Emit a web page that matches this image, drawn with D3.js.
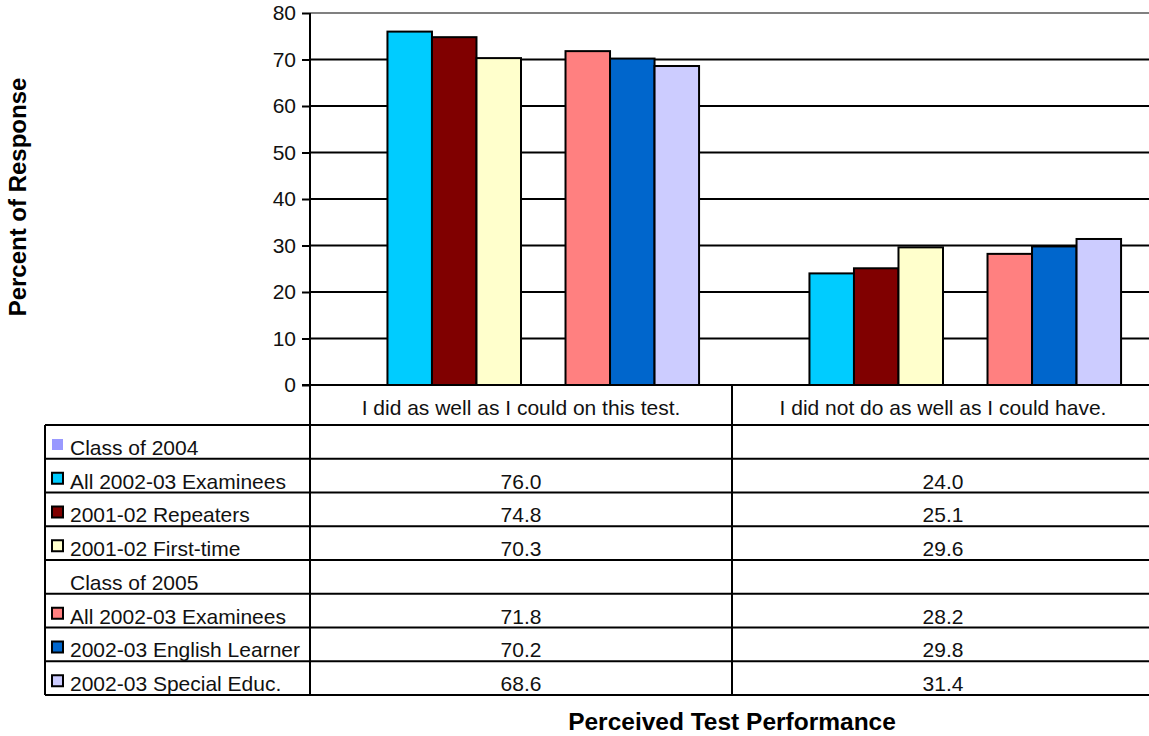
<!DOCTYPE html>
<html>
<head>
<meta charset="utf-8">
<script src="https://cdn.jsdelivr.net/npm/d3@7"></script>
<style>
  html, body { margin: 0; padding: 0; background: #fff; }
  svg { display: block; font-family: Arial, "Liberation Sans", sans-serif; }
</style>
</head>
<body>
<svg id="chart" width="1149" height="736"></svg>
<script>
// ---- data ----
const categories = ["I did as well as I could on this test.", "I did not do as well as I could have."];
const seriesNames = ["Class of 2004", "All 2002-03 Examinees", "2001-02 Repeaters", "2001-02 First-time",
                     "Class of 2005", "All 2002-03 Examinees", "2002-03 English Learner", "2002-03 Special Educ."];
const class2004 = [null, null];
const all0203c04 = [76.0, 24.0];
const repeaters0102 = [74.8, 25.1];
const firstTime0102 = [70.3, 29.6];
const class2005 = [null, null];
const all0203c05 = [71.8, 28.2];
const englishLearner0203 = [70.2, 29.8];
const specialEduc0203 = [68.6, 31.4];
const yTicks = [0, 10, 20, 30, 40, 50, 60, 70, 80];
const seriesColors = ["#9999ff", "#00ccff", "#800000", "#ffffcc", null, "#ff8080", "#0066cc", "#ccccff"];

const seriesValues = [class2004, all0203c04, repeaters0102, firstTime0102, class2005, all0203c05, englishLearner0203, specialEduc0203];

// ---- layout ----
const svg = d3.select("#chart");
const plotLeft = 310, plotRight = 1154, plotTop = 13, plotBottom = 385;
const tableLeft = 45, headerBottom = 425, rowH = 33.75;
const W = 1149;
const fs = 21;

const x0 = d3.scaleBand().domain(categories).range([plotLeft, plotRight]).paddingInner(0).paddingOuter(0);
const x1 = d3.scaleBand().domain(d3.range(seriesNames.length)).range([0, x0.bandwidth()]).paddingInner(0).paddingOuter(0.74);
const y = d3.scaleLinear().domain([0, 80]).range([plotBottom, plotTop]);

// gridlines
svg.append("g").selectAll("line").data(yTicks.filter(t => t > 0)).join("line")
  .attr("x1", plotLeft).attr("x2", W)
  .attr("y1", d => y(d)).attr("y2", d => y(d))
  .attr("stroke", d => d === 80 ? "#808080" : "#000")
  .attr("stroke-width", 2);

// bars
const barData = [];
seriesValues.forEach((vals, si) => {
  vals.forEach((v, ci) => { if (v != null) barData.push({si, ci, v}); });
});
svg.append("g").selectAll("rect").data(barData).join("rect")
  .attr("x", d => x0(categories[d.ci]) + x1(d.si))
  .attr("y", d => y(d.v))
  .attr("width", x1.bandwidth())
  .attr("height", d => y(0) - y(d.v))
  .attr("fill", d => seriesColors[d.si])
  .attr("stroke", "#000")
  .attr("stroke-width", 2);

// y axis
const yAxis = d3.axisLeft(y).tickValues(yTicks).tickSize(8).tickPadding(6).tickFormat(d3.format("d"));
const ga = svg.append("g").attr("transform", `translate(${plotLeft},0)`).call(yAxis);
ga.select(".domain").remove();
ga.selectAll(".tick line").attr("stroke", "#000").attr("stroke-width", 2);
ga.selectAll(".tick text").attr("font-size", fs).attr("fill", "#111").attr("font-family", "Arial, 'Liberation Sans', sans-serif");

// axis lines
svg.append("line").attr("x1", plotLeft).attr("x2", plotLeft).attr("y1", plotTop).attr("y2", plotBottom)
  .attr("stroke", "#000").attr("stroke-width", 2);
svg.append("line").attr("x1", plotLeft - 8).attr("x2", W).attr("y1", plotBottom).attr("y2", plotBottom)
  .attr("stroke", "#000").attr("stroke-width", 2);

// ---- data table ----
const tbl = svg.append("g");
const tableBottom = headerBottom + rowH * seriesNames.length;
const rowLines = d3.range(seriesNames.length + 1).map(i => headerBottom + i * rowH);
tbl.selectAll("line.h").data(rowLines).join("line").attr("class", "h")
  .attr("x1", tableLeft).attr("x2", W).attr("y1", d => d).attr("y2", d => d)
  .attr("stroke", "#000").attr("stroke-width", 2);
tbl.append("line").attr("x1", tableLeft).attr("x2", tableLeft).attr("y1", headerBottom).attr("y2", tableBottom)
  .attr("stroke", "#000").attr("stroke-width", 2);
const colEdges = categories.map(c => x0(c));
tbl.selectAll("line.v").data(colEdges).join("line").attr("class", "v")
  .attr("x1", d => d).attr("x2", d => d).attr("y1", plotBottom).attr("y2", tableBottom)
  .attr("stroke", "#000").attr("stroke-width", 2);

// category header labels
tbl.selectAll("text.cat").data(categories).join("text").attr("class", "cat")
  .attr("x", d => x0(d) + 211).attr("y", plotBottom + 30)
  .attr("text-anchor", "middle").attr("font-size", fs).attr("fill", "#111")
  .text(d => d);

// legend rows
seriesNames.forEach((name, si) => {
  const top = headerBottom + si * rowH;
  const col = seriesColors[si];
  if (col) {
    const key = tbl.append("rect").attr("x", 52).attr("y", top + 14).attr("width", 11).attr("height", 11)
      .attr("fill", col);
    if (si !== 0) key.attr("stroke", "#000").attr("stroke-width", 2);
  }
  tbl.append("text").attr("x", 70).attr("y", top + rowH - 4)
    .attr("font-size", fs).attr("fill", "#111").text(name);
  seriesValues[si].forEach((v, ci) => {
    if (v != null) {
      tbl.append("text").attr("x", x0(categories[ci]) + 211).attr("y", top + rowH - 4)
        .attr("text-anchor", "middle").attr("font-size", fs).attr("fill", "#111")
        .text(d3.format(".1f")(v));
    }
  });
});

// titles
svg.append("text").attr("transform", `translate(26,197) rotate(-90)`)
  .attr("text-anchor", "middle").attr("font-size", 24).attr("font-weight", "bold").attr("fill", "#000")
  .text("Percent of Response");
svg.append("text").attr("x", (plotLeft + plotRight) / 2).attr("y", 730)
  .attr("text-anchor", "middle").attr("font-size", 24.5).attr("font-weight", "bold").attr("fill", "#000")
  .text("Perceived Test Performance");
</script>
</body>
</html>
